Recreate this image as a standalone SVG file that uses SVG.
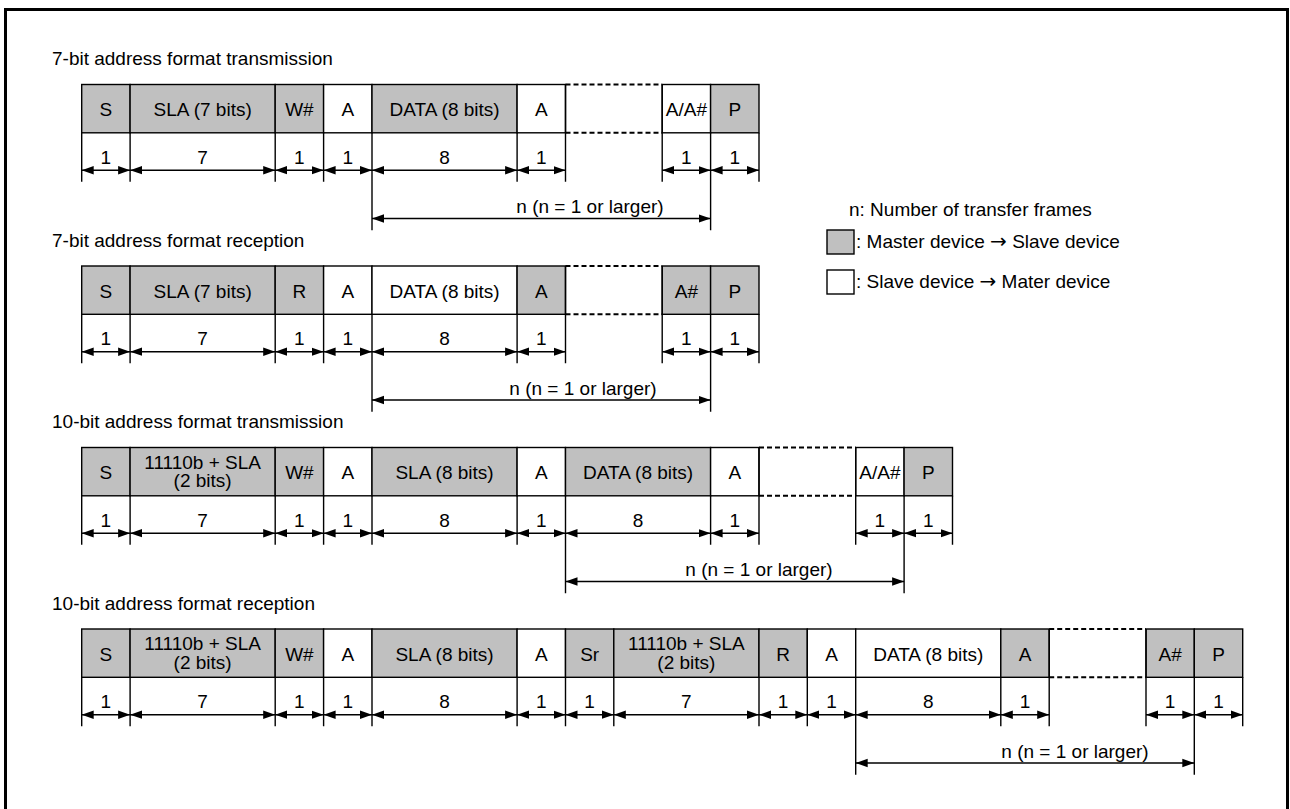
<svg xmlns="http://www.w3.org/2000/svg" width="1290" height="809" viewBox="0 0 1290 809">
<defs>
<style>
.g{fill:#c0c0c0;stroke:#000;stroke-width:1.4}
.w{fill:#fff;stroke:#000;stroke-width:1.4}
.t{font-family:"Liberation Sans",Arial,sans-serif;font-size:19px;fill:#000}
.c{text-anchor:middle}
.ar{font-family:"DejaVu Sans",sans-serif;font-size:20px;font-weight:normal}
.tk{stroke:#000;stroke-width:1.4;fill:none}
.dm{stroke:#000;stroke-width:1.4;fill:none;marker-start:url(#ah);marker-end:url(#ah)}
.ds{stroke:#000;stroke-width:2;stroke-dasharray:5 3;fill:none}
</style>
<marker id="ah" markerWidth="13" markerHeight="10" refX="12" refY="5" orient="auto-start-reverse" markerUnits="userSpaceOnUse"><path d="M0,0.8 L12,5 L0,9.2 z" fill="#000"/></marker>
</defs>
<rect x="5.5" y="9.5" width="1282" height="812" fill="#fff" stroke="#000" stroke-width="3"/>

<!-- Titles -->
<text class="t" x="52" y="65">7-bit address format transmission</text>
<text class="t" x="52" y="246.5">7-bit address format reception</text>
<text class="t" x="52" y="428">10-bit address format transmission</text>
<text class="t" x="52" y="609.5">10-bit address format reception</text>

<!-- Legend -->
<g id="legend">
<text class="t" x="849" y="215.5">n: Number of transfer frames</text>
<rect class="g" x="827" y="230" width="27" height="24"/>
<text class="t" x="856" y="247.5">: Master device <tspan class="ar">→</tspan> Slave device</text>
<rect class="w" x="827" y="270" width="27" height="24"/>
<text class="t" x="856" y="287.5">: Slave device <tspan class="ar">→</tspan> Mater device</text>
</g>

<!-- Row 1 -->
<g id="row1">
<g id="r1-S"><rect class="g" x="81.7" y="84.5" width="48.4" height="48.3"/><text class="t c" x="105.9" y="116">S</text></g>
<g id="r1-SLA"><rect class="g" x="130.1" y="84.5" width="145.1" height="48.3"/><text class="t c" x="202.65" y="116">SLA (7 bits)</text></g>
<g id="r1-W"><rect class="g" x="275.2" y="84.5" width="48.4" height="48.3"/><text class="t c" x="299.4" y="116">W#</text></g>
<g id="r1-A1"><rect class="w" x="323.6" y="84.5" width="48.4" height="48.3"/><text class="t c" x="347.8" y="116">A</text></g>
<g id="r1-DATA"><rect class="g" x="372" y="84.5" width="145.1" height="48.3"/><text class="t c" x="444.55" y="116">DATA (8 bits)</text></g>
<g id="r1-A2"><rect class="w" x="517.1" y="84.5" width="48.4" height="48.3"/><text class="t c" x="541.3" y="116">A</text></g>
<g id="r1-gap"><line class="ds" x1="565.5" y1="84.5" x2="662.2" y2="84.5"/><line class="ds" x1="565.5" y1="132.8" x2="662.2" y2="132.8"/></g>
<g id="r1-AA"><rect class="w" x="662.2" y="84.5" width="48.4" height="48.3"/><text class="t c" x="686.4" y="116">A/A#</text></g>
<g id="r1-P"><rect class="g" x="710.6" y="84.5" width="48.4" height="48.3"/><text class="t c" x="734.8" y="116">P</text></g>
</g>

<!-- Row 2 -->
<g id="row2">
<g id="r2-S"><rect class="g" x="81.7" y="266" width="48.4" height="48.3"/><text class="t c" x="105.9" y="297.5">S</text></g>
<g id="r2-SLA"><rect class="g" x="130.1" y="266" width="145.1" height="48.3"/><text class="t c" x="202.65" y="297.5">SLA (7 bits)</text></g>
<g id="r2-R"><rect class="g" x="275.2" y="266" width="48.4" height="48.3"/><text class="t c" x="299.4" y="297.5">R</text></g>
<g id="r2-A1"><rect class="w" x="323.6" y="266" width="48.4" height="48.3"/><text class="t c" x="347.8" y="297.5">A</text></g>
<g id="r2-DATA"><rect class="w" x="372" y="266" width="145.1" height="48.3"/><text class="t c" x="444.55" y="297.5">DATA (8 bits)</text></g>
<g id="r2-A2"><rect class="g" x="517.1" y="266" width="48.4" height="48.3"/><text class="t c" x="541.3" y="297.5">A</text></g>
<g id="r2-gap"><line class="ds" x1="565.5" y1="266" x2="662.2" y2="266"/><line class="ds" x1="565.5" y1="314.3" x2="662.2" y2="314.3"/></g>
<g id="r2-AN"><rect class="g" x="662.2" y="266" width="48.4" height="48.3"/><text class="t c" x="686.4" y="297.5">A#</text></g>
<g id="r2-P"><rect class="g" x="710.6" y="266" width="48.4" height="48.3"/><text class="t c" x="734.8" y="297.5">P</text></g>
</g>

<!-- Row 3 -->
<g id="row3">
<g id="r3-S"><rect class="g" x="81.7" y="447.5" width="48.4" height="48.3"/><text class="t c" x="105.9" y="479">S</text></g>
<g id="r3-HDR"><rect class="g" x="130.1" y="447.5" width="145.1" height="48.3"/><text class="t c" x="202.65" y="468.5">11110b + SLA<tspan x="202.65" dy="18.5">(2 bits)</tspan></text></g>
<g id="r3-W"><rect class="g" x="275.2" y="447.5" width="48.4" height="48.3"/><text class="t c" x="299.4" y="479">W#</text></g>
<g id="r3-A1"><rect class="w" x="323.6" y="447.5" width="48.4" height="48.3"/><text class="t c" x="347.8" y="479">A</text></g>
<g id="r3-SLA"><rect class="g" x="372" y="447.5" width="145.1" height="48.3"/><text class="t c" x="444.55" y="479">SLA (8 bits)</text></g>
<g id="r3-A2"><rect class="w" x="517.1" y="447.5" width="48.4" height="48.3"/><text class="t c" x="541.3" y="479">A</text></g>
<g id="r3-DATA"><rect class="g" x="565.5" y="447.5" width="145.1" height="48.3"/><text class="t c" x="638.05" y="479">DATA (8 bits)</text></g>
<g id="r3-A3"><rect class="w" x="710.6" y="447.5" width="48.4" height="48.3"/><text class="t c" x="734.8" y="479">A</text></g>
<g id="r3-gap"><line class="ds" x1="759" y1="447.5" x2="855.7" y2="447.5"/><line class="ds" x1="759" y1="495.8" x2="855.7" y2="495.8"/></g>
<g id="r3-AA"><rect class="w" x="855.7" y="447.5" width="48.4" height="48.3"/><text class="t c" x="879.9" y="479">A/A#</text></g>
<g id="r3-P"><rect class="g" x="904.1" y="447.5" width="48.4" height="48.3"/><text class="t c" x="928.3" y="479">P</text></g>
</g>

<!-- Row 4 -->
<g id="row4">
<g id="r4-S"><rect class="g" x="81.7" y="629" width="48.4" height="48.3"/><text class="t c" x="105.9" y="660.5">S</text></g>
<g id="r4-HDR1"><rect class="g" x="130.1" y="629" width="145.1" height="48.3"/><text class="t c" x="202.65" y="650">11110b + SLA<tspan x="202.65" dy="18.5">(2 bits)</tspan></text></g>
<g id="r4-W"><rect class="g" x="275.2" y="629" width="48.4" height="48.3"/><text class="t c" x="299.4" y="660.5">W#</text></g>
<g id="r4-A1"><rect class="w" x="323.6" y="629" width="48.4" height="48.3"/><text class="t c" x="347.8" y="660.5">A</text></g>
<g id="r4-SLA"><rect class="g" x="372" y="629" width="145.1" height="48.3"/><text class="t c" x="444.55" y="660.5">SLA (8 bits)</text></g>
<g id="r4-A2"><rect class="w" x="517.1" y="629" width="48.4" height="48.3"/><text class="t c" x="541.3" y="660.5">A</text></g>
<g id="r4-Sr"><rect class="g" x="565.5" y="629" width="48.3" height="48.3"/><text class="t c" x="589.65" y="660.5">Sr</text></g>
<g id="r4-HDR2"><rect class="g" x="613.8" y="629" width="145.2" height="48.3"/><text class="t c" x="686.4" y="650">11110b + SLA<tspan x="686.4" dy="18.5">(2 bits)</tspan></text></g>
<g id="r4-R"><rect class="g" x="759" y="629" width="48.3" height="48.3"/><text class="t c" x="783.15" y="660.5">R</text></g>
<g id="r4-A3"><rect class="w" x="807.3" y="629" width="48.4" height="48.3"/><text class="t c" x="831.5" y="660.5">A</text></g>
<g id="r4-DATA"><rect class="w" x="855.7" y="629" width="145.1" height="48.3"/><text class="t c" x="928.25" y="660.5">DATA (8 bits)</text></g>
<g id="r4-A4"><rect class="g" x="1000.8" y="629" width="48.4" height="48.3"/><text class="t c" x="1025" y="660.5">A</text></g>
<g id="r4-gap"><line class="ds" x1="1049.2" y1="629" x2="1146" y2="629"/><line class="ds" x1="1049.2" y1="677.3" x2="1146" y2="677.3"/></g>
<g id="r4-AN"><rect class="g" x="1146" y="629" width="48.3" height="48.3"/><text class="t c" x="1170.15" y="660.5">A#</text></g>
<g id="r4-P"><rect class="g" x="1194.3" y="629" width="48.4" height="48.3"/><text class="t c" x="1218.5" y="660.5">P</text></g>
</g>

<!-- Connectors: ticks and dimension arrows -->
<g id="connectors">
<path class="tk" d="M81.7,132.8V181.8 M130.1,132.8V181.8 M275.2,132.8V181.8 M323.6,132.8V181.8 M372,132.8V230.2 M517.1,132.8V181.8 M565.5,84.5V181.8 M662.2,84.5V181.8 M710.6,132.8V230.2 M759,132.8V181.8"/>
<line class="dm" x1="81.7" y1="170.2" x2="130.1" y2="170.2"/>
<line class="dm" x1="130.1" y1="170.2" x2="275.2" y2="170.2"/>
<line class="dm" x1="275.2" y1="170.2" x2="323.6" y2="170.2"/>
<line class="dm" x1="323.6" y1="170.2" x2="372" y2="170.2"/>
<line class="dm" x1="372" y1="170.2" x2="517.1" y2="170.2"/>
<line class="dm" x1="517.1" y1="170.2" x2="565.5" y2="170.2"/>
<line class="dm" x1="662.2" y1="170.2" x2="710.6" y2="170.2"/>
<line class="dm" x1="710.6" y1="170.2" x2="759" y2="170.2"/>
<line class="dm" x1="372" y1="218.5" x2="710.6" y2="218.5"/>
<g class="t c">
<text x="105.9" y="163.5">1</text><text x="202.65" y="163.5">7</text><text x="299.4" y="163.5">1</text><text x="347.8" y="163.5">1</text><text x="444.55" y="163.5">8</text><text x="541.3" y="163.5">1</text><text x="686.4" y="163.5">1</text><text x="734.8" y="163.5">1</text>
<text x="590" y="213">n (n = 1 or larger)</text>
</g>

<path class="tk" d="M81.7,314.3V363.3 M130.1,314.3V363.3 M275.2,314.3V363.3 M323.6,314.3V363.3 M372,314.3V411.7 M517.1,314.3V363.3 M565.5,266V363.3 M662.2,266V363.3 M710.6,314.3V411.7 M759,314.3V363.3"/>
<line class="dm" x1="81.7" y1="351.7" x2="130.1" y2="351.7"/>
<line class="dm" x1="130.1" y1="351.7" x2="275.2" y2="351.7"/>
<line class="dm" x1="275.2" y1="351.7" x2="323.6" y2="351.7"/>
<line class="dm" x1="323.6" y1="351.7" x2="372" y2="351.7"/>
<line class="dm" x1="372" y1="351.7" x2="517.1" y2="351.7"/>
<line class="dm" x1="517.1" y1="351.7" x2="565.5" y2="351.7"/>
<line class="dm" x1="662.2" y1="351.7" x2="710.6" y2="351.7"/>
<line class="dm" x1="710.6" y1="351.7" x2="759" y2="351.7"/>
<line class="dm" x1="372" y1="400" x2="710.6" y2="400"/>
<g class="t c">
<text x="105.9" y="345">1</text><text x="202.65" y="345">7</text><text x="299.4" y="345">1</text><text x="347.8" y="345">1</text><text x="444.55" y="345">8</text><text x="541.3" y="345">1</text><text x="686.4" y="345">1</text><text x="734.8" y="345">1</text>
<text x="583" y="394.5">n (n = 1 or larger)</text>
</g>

<path class="tk" d="M81.7,495.8V544.8 M130.1,495.8V544.8 M275.2,495.8V544.8 M323.6,495.8V544.8 M372,495.8V544.8 M517.1,495.8V544.8 M565.5,495.8V593.2 M710.6,495.8V544.8 M759,447.5V544.8 M855.7,447.5V544.8 M904.1,495.8V593.2 M952.5,495.8V544.8"/>
<line class="dm" x1="81.7" y1="533.2" x2="130.1" y2="533.2"/>
<line class="dm" x1="130.1" y1="533.2" x2="275.2" y2="533.2"/>
<line class="dm" x1="275.2" y1="533.2" x2="323.6" y2="533.2"/>
<line class="dm" x1="323.6" y1="533.2" x2="372" y2="533.2"/>
<line class="dm" x1="372" y1="533.2" x2="517.1" y2="533.2"/>
<line class="dm" x1="517.1" y1="533.2" x2="565.5" y2="533.2"/>
<line class="dm" x1="565.5" y1="533.2" x2="710.6" y2="533.2"/>
<line class="dm" x1="710.6" y1="533.2" x2="759" y2="533.2"/>
<line class="dm" x1="855.7" y1="533.2" x2="904.1" y2="533.2"/>
<line class="dm" x1="904.1" y1="533.2" x2="952.5" y2="533.2"/>
<line class="dm" x1="565.5" y1="581.5" x2="904.1" y2="581.5"/>
<g class="t c">
<text x="105.9" y="526.5">1</text><text x="202.65" y="526.5">7</text><text x="299.4" y="526.5">1</text><text x="347.8" y="526.5">1</text><text x="444.55" y="526.5">8</text><text x="541.3" y="526.5">1</text><text x="638.05" y="526.5">8</text><text x="734.8" y="526.5">1</text><text x="879.9" y="526.5">1</text><text x="928.3" y="526.5">1</text>
<text x="759" y="576">n (n = 1 or larger)</text>
</g>

<path class="tk" d="M81.7,677.3V726.3 M130.1,677.3V726.3 M275.2,677.3V726.3 M323.6,677.3V726.3 M372,677.3V726.3 M517.1,677.3V726.3 M565.5,677.3V726.3 M613.8,677.3V726.3 M759,677.3V726.3 M807.3,677.3V726.3 M855.7,677.3V774.7 M1000.8,677.3V726.3 M1049.2,629V726.3 M1146,629V726.3 M1194.3,677.3V774.7 M1242.7,677.3V726.3"/>
<line class="dm" x1="81.7" y1="714.7" x2="130.1" y2="714.7"/>
<line class="dm" x1="130.1" y1="714.7" x2="275.2" y2="714.7"/>
<line class="dm" x1="275.2" y1="714.7" x2="323.6" y2="714.7"/>
<line class="dm" x1="323.6" y1="714.7" x2="372" y2="714.7"/>
<line class="dm" x1="372" y1="714.7" x2="517.1" y2="714.7"/>
<line class="dm" x1="517.1" y1="714.7" x2="565.5" y2="714.7"/>
<line class="dm" x1="565.5" y1="714.7" x2="613.8" y2="714.7"/>
<line class="dm" x1="613.8" y1="714.7" x2="759" y2="714.7"/>
<line class="dm" x1="759" y1="714.7" x2="807.3" y2="714.7"/>
<line class="dm" x1="807.3" y1="714.7" x2="855.7" y2="714.7"/>
<line class="dm" x1="855.7" y1="714.7" x2="1000.8" y2="714.7"/>
<line class="dm" x1="1000.8" y1="714.7" x2="1049.2" y2="714.7"/>
<line class="dm" x1="1146" y1="714.7" x2="1194.3" y2="714.7"/>
<line class="dm" x1="1194.3" y1="714.7" x2="1242.7" y2="714.7"/>
<line class="dm" x1="855.7" y1="763" x2="1194.3" y2="763"/>
<g class="t c">
<text x="105.9" y="708">1</text><text x="202.65" y="708">7</text><text x="299.4" y="708">1</text><text x="347.8" y="708">1</text><text x="444.55" y="708">8</text><text x="541.3" y="708">1</text><text x="589.65" y="708">1</text><text x="686.4" y="708">7</text><text x="783.15" y="708">1</text><text x="831.5" y="708">1</text><text x="928.25" y="708">8</text><text x="1025" y="708">1</text><text x="1170.15" y="708">1</text><text x="1218.5" y="708">1</text>
<text x="1075" y="757.5">n (n = 1 or larger)</text>
</g>
</g>
</svg>
